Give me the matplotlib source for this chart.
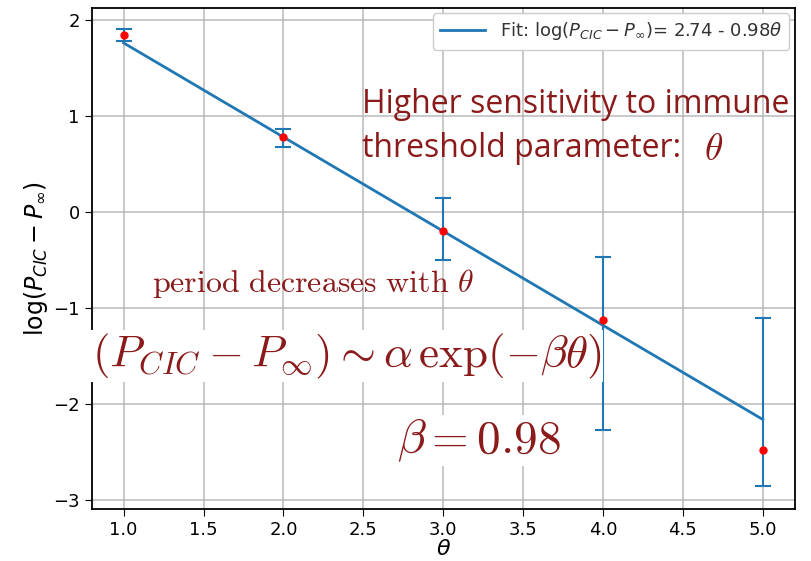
import matplotlib.pyplot as plt
import numpy as np

# data
theta = np.array([1.0, 2.0, 3.0, 4.0, 5.0])
log_dp = np.array([1.84, 0.78, -0.20, -1.12, -2.48])
err_low = np.array([0.06, 0.10, 0.30, 1.15, 0.37])
err_high = np.array([0.06, 0.08, 0.35, 0.65, 1.38])

fit_a = 2.74
fit_b = 0.98
fit_y = fit_a - fit_b * theta

red = '#8b1a1a'

plt.rcParams['mathtext.fontset'] = 'dejavusans'

fig = plt.figure(figsize=(8.11, 5.61), dpi=100)
ax = fig.add_axes([0.113, 0.093, 0.867, 0.893])

ax.plot(theta, fit_y, color='#1f77b4', linewidth=2,
        label=r'Fit: $\log(P_{CIC} - P_{\infty})$= 2.74 - 0.98$\theta$')
ax.errorbar(theta, log_dp, yerr=[err_low, err_high], fmt='none',
            ecolor='#1f77b4', elinewidth=1.5, capsize=6, capthick=1.5)
ax.plot(theta, log_dp, 'o', color='red', markersize=5, zorder=5)

ax.set_xlim(0.8, 5.2)
ax.set_ylim(-3.09, 2.125)
ax.set_xticks([1.0, 1.5, 2.0, 2.5, 3.0, 3.5, 4.0, 4.5, 5.0])
ax.set_yticks([-3, -2, -1, 0, 1, 2])
ax.tick_params(labelsize=13, length=5)
ax.grid(True, color='#b0b0b0', linewidth=1.2, alpha=0.8)
ax.set_xlabel(r'$\theta$', fontsize=16, labelpad=0)
ax.set_ylabel(r'$\log(P_{CIC} - P_{\infty})$', fontsize=17, labelpad=2)
for s in ax.spines.values():
    s.set_linewidth(1.3)

leg = ax.legend(loc='upper right', fontsize=13, handlelength=2.5,
                borderaxespad=0.3, framealpha=1)
for t in leg.get_texts():
    t.set_color('#333333')

# slide annotations
fig.text(0.446, 0.813, 'Higher sensitivity to immune', color=red,
         fontsize=23, family='Open Sans', va='center')
fig.text(0.446, 0.736, 'threshold parameter:', color=red,
         fontsize=23, family='Open Sans', va='center')
fig.text(0.868, 0.733, r'$\theta$', color=red, fontsize=27, va='center',
         math_fontfamily='cm')
fig.text(0.188, 0.495, r'$\mathrm{period\ decreases\ with}\ \theta$',
         color=red, fontsize=23, va='center', math_fontfamily='cm')
fig.text(0.113, 0.365, r'$(P_{CIC} - P_{\infty}) \sim \alpha\, \exp(-\beta\theta)$',
         color=red, fontsize=32.5, va='center', math_fontfamily='cm',
         bbox=dict(facecolor='white', edgecolor='none', pad=1))
fig.text(0.49, 0.215, r'$\beta = 0.98$', color=red, fontsize=34,
         va='center', math_fontfamily='cm',
         bbox=dict(facecolor='white', edgecolor='none', pad=1))

fig.savefig('out.png', dpi=100)
